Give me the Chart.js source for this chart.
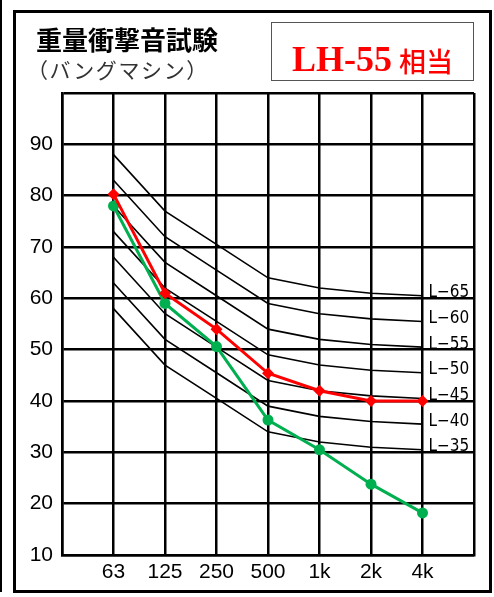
<!DOCTYPE html>
<html>
<head>
<meta charset="utf-8">
<script src="https://cdn.jsdelivr.net/npm/chart.js@4.4.0/dist/chart.umd.min.js"></script>
<style>
html, body { margin: 0; padding: 0; background: #fff; }
#wrap { position: relative; width: 494px; height: 597px; overflow: hidden; }
#edge { position: absolute; left: 0; top: 0; width: 2px; height: 592px; background: #000; }
#frame { position: absolute; left: 13px; top: 10px; width: 473px; height: 577px; border: 3px solid #000; }
#title { position: absolute; left: 36px; top: 26px; font: bold 26px "Noto Sans CJK JP", sans-serif; line-height: 26px; white-space: nowrap; }
#sub { position: absolute; left: 27px; top: 59px; font: 21px "Noto Sans CJK JP", sans-serif; line-height: 21px; letter-spacing: 1.6px; color: #333; white-space: nowrap; }
#badge { position: absolute; left: 271px; top: 22px; width: 201px; height: 57px; border: 1.5px solid #555; }
#lh { position: absolute; left: 292px; top: 41px; font: bold 36px "Liberation Serif", serif; line-height: 36px; color: #ff0000; white-space: nowrap; }
#so { position: absolute; left: 399px; top: 47px; font: 500 27px "Noto Sans CJK JP", sans-serif; line-height: 27px; color: #ff0000; white-space: nowrap; }
canvas { position: absolute; left: 0; top: 0; }
</style>
</head>
<body>
<div id="wrap">
  <div id="edge"></div>
  <div id="frame"></div>
  <canvas id="soundChart" width="494" height="597"></canvas>
  <div id="title">重量衝撃音試験</div>
  <div id="sub">（バングマシン）</div>
  <div id="badge"></div>
  <div id="lh">LH-55</div>
  <div id="so">相当</div>
</div>
<script>
const ctx = document.getElementById('soundChart').getContext('2d');

// frequency bands (Hz)
const freqLabels = ['63', '125', '250', '500', '1k', '2k', '4k'];

// measured values (red) and green series, dB
const measured = [80.3, 61, 54, 45.4, 42, 40, 40];
const greenSeries = [78, 59, 50.6, 36.3, 30.5, 23.8, 18.2];

// L-number reference curves
const curveNames = ['L−65', 'L−60', 'L−55', 'L−50', 'L−45', 'L−40', 'L−35'];
const l65 = [88, 77, 70.5, 64, 62, 61, 60.5];
const l60 = [83, 72, 65.5, 59, 57, 56, 55.5];
const l55 = [78, 67, 60.5, 54, 52, 51, 50.5];
const l50 = [73, 62, 55.5, 49, 47, 46, 45.5];
const l45 = [68, 57, 50.5, 44, 42, 41, 40.5];
const l40 = [63, 52, 45.5, 39, 37, 36, 35.5];
const l35 = [58, 47, 40.5, 34, 32, 31, 30.5];
const curves = [l65, l60, l55, l50, l45, l40, l35];

const toPoints = arr => arr.map((v, i) => ({ x: i + 1, y: v }));

const curveSets = curves.map((c, i) => ({
    label: curveNames[i],
    data: toPoints(c),
    borderColor: '#000',
    borderWidth: 1.6,
    pointRadius: 0,
    tension: 0,
    order: 2
}));

// draws "L-65" etc. next to the end of each curve
const curveLabels = {
    id: 'curveLabels',
    afterDatasetsDraw(chart) {
        const { ctx, scales: { x, y } } = chart;
        ctx.save();
        ctx.font = '17px "Liberation Sans Narrow", "DejaVu Sans Condensed", sans-serif';
        ctx.fillStyle = '#000';
        ctx.textBaseline = 'middle';
        curveNames.forEach((name, i) => {
            const last = curves[i][curves[i].length - 1];
            ctx.fillText(name, x.getPixelForValue(freqLabels.length) + 6, y.getPixelForValue(last) - 3);
        });
        ctx.restore();
    }
};

const tickFont = { family: '"Liberation Sans Narrow", "Liberation Sans", sans-serif', size: 21 };

new Chart(ctx, {
    type: 'line',
    data: {
        datasets: [{
            label: 'LH-55',
            data: toPoints(measured),
            borderColor: '#ff0000',
            backgroundColor: '#ff0000',
            borderWidth: 3,
            pointStyle: 'rectRot',
            pointRadius: 6,
            pointBorderWidth: 0,
            tension: 0,
            order: 0
        }, {
            label: 'green',
            data: toPoints(greenSeries),
            borderColor: '#00b050',
            backgroundColor: '#00b050',
            borderWidth: 3,
            pointStyle: 'circle',
            pointRadius: 5.5,
            pointBorderWidth: 0,
            tension: 0,
            order: 1
        }, ...curveSets]
    },
    options: {
        responsive: false,
        animation: false,
        layout: { padding: { top: 93, right: 20, left: 0, bottom: 0 } },
        plugins: { legend: { display: false }, tooltip: { enabled: false } },
        scales: {
            x: {
                type: 'linear',
                min: 0,
                max: freqLabels.length + 1,
                afterFit: s => { s.height = 42; },
                ticks: {
                    stepSize: 1,
                    autoSkip: false,
                    maxRotation: 0,
                    padding: 5,
                    color: '#000',
                    font: tickFont,
                    callback: v => freqLabels[v - 1] || ''
                },
                grid: { color: '#000', lineWidth: 2.5, drawTicks: false },
                border: { color: '#000', width: 2.5 }
            },
            y: {
                min: 10,
                max: 100,
                afterFit: s => { s.width = 62; },
                ticks: {
                    stepSize: 10,
                    padding: 9,
                    color: '#000',
                    font: tickFont,
                    callback: v => (v === 100 ? '' : v)
                },
                grid: { color: '#000', lineWidth: 2.5, drawTicks: false },
                border: { color: '#000', width: 2.5 }
            }
        }
    },
    plugins: [curveLabels]
});
</script>
</body>
</html>
